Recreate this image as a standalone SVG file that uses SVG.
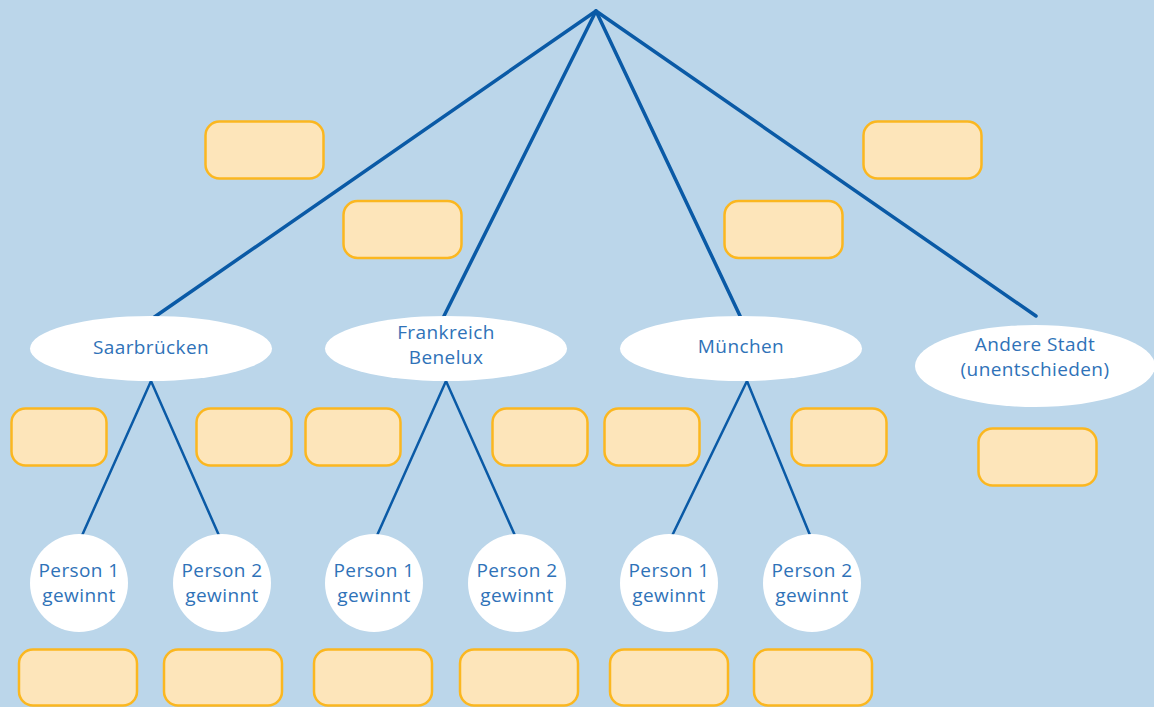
<svg xmlns="http://www.w3.org/2000/svg" width="1154" height="707" viewBox="0 0 1154 707">
<style>
.box{fill:#fde5ba;stroke:#fbb720;stroke-width:2.5}
.ell{fill:#ffffff}
.t{font-family:"Open Sans","Liberation Sans",sans-serif;font-size:19px;fill:#2f72b8;text-anchor:middle;letter-spacing:0.4px}
.main{stroke:#0a5aa6;stroke-width:3.5;fill:none;stroke-linecap:round}
.sub{stroke:#0a5aa6;stroke-width:2.5;fill:none}
</style>
<rect width="1154" height="707" fill="#bbd6ea"/>
<g id="connectors">
<line class="main" x1="596" y1="11" x2="153" y2="318"/>
<line class="main" x1="596" y1="11" x2="443" y2="318"/>
<line class="main" x1="596" y1="11" x2="741" y2="318"/>
<line class="main" x1="596" y1="11" x2="1036" y2="316"/>
<polyline class="sub" points="80,540 151,381 221,540"/>
<polyline class="sub" points="375,540 446,381 517,540"/>
<polyline class="sub" points="670,540 747,381 812,540"/>
</g>
<g id="boxes-top">
<rect id="box1" class="box" x="205.5" y="121.5" width="118" height="57" rx="14"/>
<rect id="box2" class="box" x="343.5" y="201" width="118" height="57" rx="14"/>
<rect id="box3" class="box" x="863.5" y="121.5" width="118" height="57" rx="14"/>
<rect id="box4" class="box" x="724.5" y="201" width="118" height="57" rx="14"/>
</g>
<g id="n-saarbruecken"><ellipse class="ell" cx="151" cy="348.5" rx="121" ry="32.5"/><text class="t" x="151" y="354">Saarbrücken</text></g>
<g id="n-frankreich"><ellipse class="ell" cx="446" cy="348.5" rx="121" ry="32.5"/><text class="t" x="446" y="339">Frankreich</text><text class="t" x="446" y="364">Benelux</text></g>
<g id="n-muenchen"><ellipse class="ell" cx="741" cy="348.5" rx="121" ry="32.5"/><text class="t" x="741" y="353">München</text></g>
<g id="n-andere"><ellipse class="ell" cx="1035" cy="366" rx="120" ry="41"/><text class="t" x="1035" y="351">Andere Stadt</text><text class="t" x="1035" y="376">(unentschieden)</text></g>
<g id="boxes-mid">
<rect class="box" x="11.5" y="408.5" width="95" height="57" rx="14"/>
<rect class="box" x="196.5" y="408.5" width="95" height="57" rx="14"/>
<rect class="box" x="305.5" y="408.5" width="95" height="57" rx="14"/>
<rect class="box" x="492.5" y="408.5" width="95" height="57" rx="14"/>
<rect class="box" x="604.5" y="408.5" width="95" height="57" rx="14"/>
<rect class="box" x="791.5" y="408.5" width="95" height="57" rx="14"/>
<rect class="box" x="978.5" y="428.5" width="118" height="57" rx="14"/>
</g>
<g id="p1-s"><circle cx="79" cy="583" r="49" fill="#fff"/><text class="t" x="79" y="577">Person 1</text><text class="t" x="79" y="602">gewinnt</text></g>
<g id="p2-s"><circle cx="222" cy="583" r="49" fill="#fff"/><text class="t" x="222" y="577">Person 2</text><text class="t" x="222" y="602">gewinnt</text></g>
<g id="p1-f"><circle cx="374" cy="583" r="49" fill="#fff"/><text class="t" x="374" y="577">Person 1</text><text class="t" x="374" y="602">gewinnt</text></g>
<g id="p2-f"><circle cx="517" cy="583" r="49" fill="#fff"/><text class="t" x="517" y="577">Person 2</text><text class="t" x="517" y="602">gewinnt</text></g>
<g id="p1-m"><circle cx="669" cy="583" r="49" fill="#fff"/><text class="t" x="669" y="577">Person 1</text><text class="t" x="669" y="602">gewinnt</text></g>
<g id="p2-m"><circle cx="812" cy="583" r="49" fill="#fff"/><text class="t" x="812" y="577">Person 2</text><text class="t" x="812" y="602">gewinnt</text></g>
<g id="boxes-bottom">
<rect class="box" x="19" y="649.5" width="118" height="56" rx="14"/>
<rect class="box" x="164" y="649.5" width="118" height="56" rx="14"/>
<rect class="box" x="314" y="649.5" width="118" height="56" rx="14"/>
<rect class="box" x="460" y="649.5" width="118" height="56" rx="14"/>
<rect class="box" x="610" y="649.5" width="118" height="56" rx="14"/>
<rect class="box" x="754" y="649.5" width="118" height="56" rx="14"/>
</g>
</svg>
